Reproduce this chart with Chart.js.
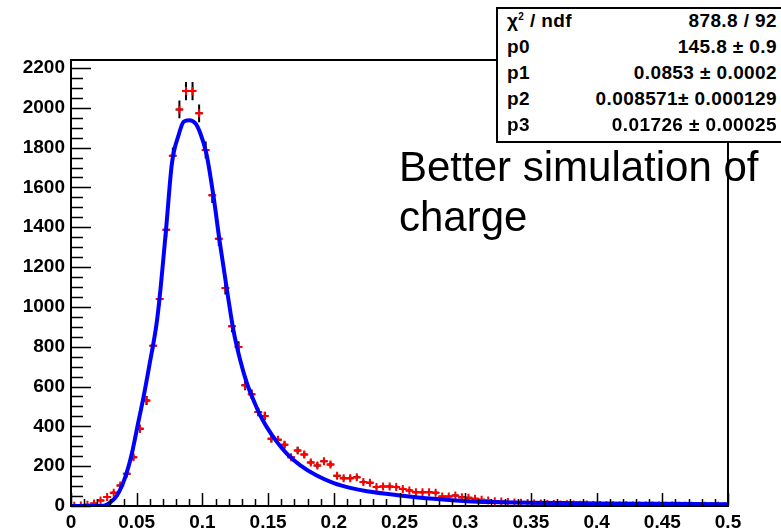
<!DOCTYPE html>
<html>
<head>
<meta charset="utf-8">
<script src="https://cdn.jsdelivr.net/npm/chart.js@4.4.1/dist/chart.umd.min.js"></script>
<style>
  body { margin: 0; background: #fff; }
  #wrap { position: relative; width: 781px; height: 528px; overflow: hidden; }
  #stats { position: absolute; left: 496px; top: 7px; width: 292px; height: 132px; border: 2px solid #000; background: #fff; box-sizing: content-box; }
  .row { position: absolute; left: 0; width: 283px; height: 26px; line-height: 26px; font: bold 19px "Liberation Sans", Arial, sans-serif; letter-spacing: 0.4px; }
  .row .n { position: absolute; left: 9px; }
  .row .v { position: absolute; right: 4px; }
  .row sup { font-size: 10px; line-height: 0; }
  #note { position: absolute; left: 399px; top: 142px; font: 42px "Liberation Sans", Arial, sans-serif; line-height: 50px; color: #000; }
</style>
</head>
<body>
<div id="wrap">
  <canvas id="c" width="781" height="528"></canvas>
  <div id="stats"></div>
  <div id="note">Better simulation of<br>charge</div>
</div>
<script>
// histogram: 100 bins of 0.005 from 0 to 0.5
const binLow = 0;
const binWidth = 0.005;
const counts = [
  1, 3, 6, 12, 28, 45, 67, 103, 162, 245,
  388, 530, 805, 1040, 1387, 1759, 1992, 2084, 2084, 1972,
  1788, 1561, 1342, 1095, 903, 799, 606, 561, 472, 452,
  338, 333, 308, 245, 279, 259, 219, 204, 225, 209,
  152, 140, 140, 145, 120, 117, 95, 98, 98, 95,
  86, 78, 69, 69, 69, 66, 48, 48, 53, 44,
  41, 36, 31, 28, 24, 22, 20, 18, 16, 15,
  13, 12, 10, 10, 8, 9, 7, 6, 7, 5,
  5, 4, 4, 3, 4, 3, 2, 3, 2, 2,
  1, 2, 1, 1, 1, 0, 1, 0, 1, 0
];

// fit curve
const fitX = [0, 0.02, 0.025, 0.03, 0.035, 0.041, 0.046, 0.0515, 0.055, 0.06, 0.065, 0.0675, 0.0725, 0.0768,
  0.0819, 0.0857, 0.09, 0.0946, 0.0984, 0.103, 0.1085, 0.113, 0.1187, 0.1237, 0.1288, 0.134, 0.139, 0.144,
  0.149, 0.1568, 0.1644, 0.1745, 0.187, 0.2, 0.2125, 0.2253, 0.2506, 0.276, 0.3014, 0.3267, 0.35, 0.4, 0.45, 0.5];
const fitY = [0, 0, 2, 19, 53, 140, 255, 430, 540, 720, 910, 1050, 1402, 1721,
  1863, 1930, 1938, 1922, 1872, 1771, 1553, 1335, 1085, 880, 732, 614, 530, 455,
  396, 321, 262, 204, 153, 115, 91, 74, 53, 36, 24, 19, 16, 13, 11, 9];

// axes
const xTicks = [0, 0.05, 0.1, 0.15, 0.2, 0.25, 0.3, 0.35, 0.4, 0.45, 0.5];
const xLabels = ['0', '0.05', '0.1', '0.15', '0.2', '0.25', '0.3', '0.35', '0.4', '0.45', '0.5'];
const yTicks = [0, 200, 400, 600, 800, 1000, 1200, 1400, 1600, 1800, 2000, 2200];
const yMax = 2240;

// stats box
const statNames = ['&chi;<sup>2</sup> / ndf', 'p0', 'p1', 'p2', 'p3'];
const statValues = ['878.8 / 92', '145.8 &plusmn; 0.9', '0.0853 &plusmn; 0.0002', '0.008571&plusmn; 0.000129', '0.01726 &plusmn; 0.00025'];

const statsDiv = document.getElementById('stats');
statNames.forEach((n, i) => {
  const r = document.createElement('div');
  r.className = 'row';
  r.style.top = (1 + i * 26) + 'px';
  r.innerHTML = `<span class="n">${n}</span><span class="v">${statValues[i]}</span>`;
  statsDiv.appendChild(r);
});

const histPoints = counts.map((c, i) => ({ x: binLow + (i + 0.5) * binWidth, y: c }));
const fitPoints = fitX.map((x, i) => ({ x: x, y: fitY[i] }));

// error bars (sqrt N) and bin width bars, drawn under the markers
const errorBars = {
  id: 'errorBars',
  beforeDatasetsDraw(chart) {
    const { ctx, scales: { x, y }, chartArea } = chart;
    ctx.save();
    ctx.beginPath();
    ctx.rect(chartArea.left, chartArea.top, chartArea.width, chartArea.height);
    ctx.clip();
    ctx.strokeStyle = '#000';
    ctx.lineWidth = 2;
    histPoints.forEach(p => {
      const e = Math.sqrt(p.y);
      const px = x.getPixelForValue(p.x);
      ctx.beginPath();
      ctx.moveTo(px, y.getPixelForValue(p.y - e));
      ctx.lineTo(px, y.getPixelForValue(p.y + e));
      ctx.moveTo(x.getPixelForValue(p.x - binWidth / 2), y.getPixelForValue(p.y));
      ctx.lineTo(x.getPixelForValue(p.x + binWidth / 2), y.getPixelForValue(p.y));
      ctx.stroke();
    });
    ctx.restore();
  }
};

// ROOT style frame with inner ticks
const rootFrame = {
  id: 'rootFrame',
  afterDraw(chart) {
    const { ctx, scales: { x, y }, chartArea: a } = chart;
    ctx.save();
    ctx.strokeStyle = '#000';
    ctx.lineWidth = 2;
    ctx.strokeRect(a.left, a.top, a.right - a.left, a.bottom - a.top);
    ctx.lineWidth = 1.5;
    ctx.beginPath();
    for (let v = 0; v <= 0.5 + 1e-9; v += 0.01) {
      const px = Math.round(x.getPixelForValue(v)) + 0.5;
      const major = Math.abs(v / 0.05 - Math.round(v / 0.05)) < 1e-6;
      ctx.moveTo(px, a.bottom);
      ctx.lineTo(px, a.bottom - (major ? 13 : 7));
    }
    for (let v = 0; v <= yMax; v += 50) {
      const py = Math.round(y.getPixelForValue(v)) + 0.5;
      const major = v % 200 === 0;
      ctx.moveTo(a.left, py);
      ctx.lineTo(a.left + (major ? 20 : 12), py);
    }
    ctx.stroke();
    ctx.restore();
  }
};

Chart.defaults.color = '#000';
Chart.defaults.font.family = '"Liberation Sans", Arial, sans-serif';

new Chart(document.getElementById('c'), {
  type: 'scatter',
  data: {
    datasets: [
      {
        label: 'fit',
        type: 'line',
        data: fitPoints,
        borderColor: '#0000ff',
        borderWidth: 4,
        pointRadius: 0,
        cubicInterpolationMode: 'monotone',
        fill: false
      },
      {
        label: 'data',
        data: histPoints,
        pointStyle: 'cross',
        pointRadius: 4,
        borderColor: '#ff0000',
        backgroundColor: '#ff0000',
        pointBorderWidth: 2
      }
    ]
  },
  options: {
    responsive: false,
    animation: false,
    events: [],
    layout: { padding: { top: 60, right: 53, left: 0, bottom: 0 } },
    plugins: { legend: { display: false }, tooltip: { enabled: false } },
    scales: {
      x: {
        type: 'linear',
        min: 0,
        max: 0.5,
        afterFit: s => { s.height = 22; },
        afterBuildTicks: s => { s.ticks = xTicks.map(v => ({ value: v })); },
        grid: { display: false, drawTicks: false },
        border: { display: false },
        ticks: {
          padding: 5,
          maxRotation: 0,
          autoSkip: false,
          font: { size: 19, weight: 'bold' },
          callback: (v, i) => xLabels[i]
        }
      },
      y: {
        type: 'linear',
        min: 0,
        max: yMax,
        afterFit: s => { s.width = 71; },
        afterBuildTicks: s => { s.ticks = yTicks.map(v => ({ value: v })); },
        grid: { display: false, drawTicks: false },
        border: { display: false },
        ticks: {
          padding: 6,
          autoSkip: false,
          font: { size: 19, weight: 'bold' },
          callback: v => String(v)
        }
      }
    }
  },
  plugins: [errorBars, rootFrame]
});
</script>
</body>
</html>
